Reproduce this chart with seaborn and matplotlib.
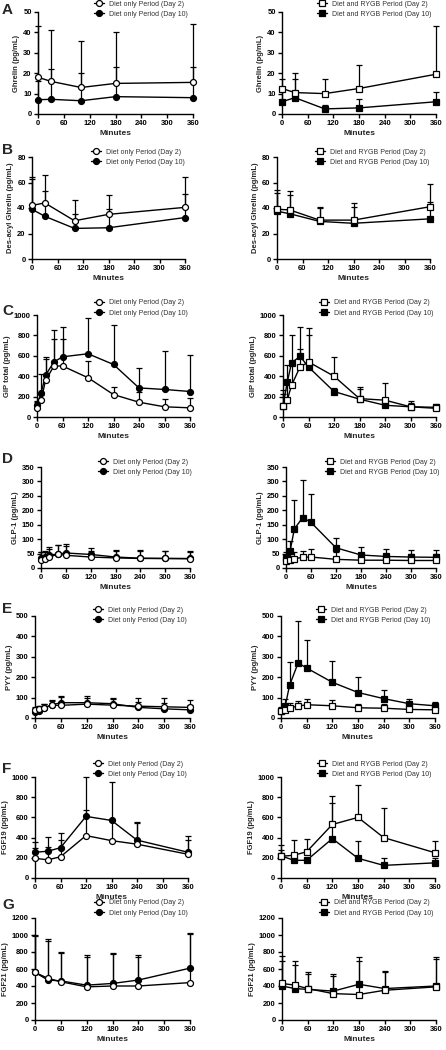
import numpy as np
import matplotlib
matplotlib.use("Agg")
import matplotlib.pyplot as plt
import seaborn as sns

# time points (minutes)
t_ghr = [0, 30, 100, 180, 360]
t_meal = [0, 10, 20, 40, 60, 120, 180, 240, 300, 360]
t_fgf = [0, 30, 60, 120, 180, 240, 360]

# A - Ghrelin (mean, upper error bar end)
ghr_diet_d2 = [18, 16, 13, 15, 15.5]
ghr_diet_d2_up = [43, 41, 36, 40, 44]
ghr_diet_d10 = [7, 7.2, 6.5, 8.5, 8]
ghr_diet_d10_up = [16, 22, 20, 23, 23]
ghr_rygb_d2 = [12.5, 10.5, 10, 12.5, 19.5]
ghr_rygb_d2_up = [17, 20, 17, 24, 43]
ghr_rygb_d10 = [6, 8, 2.5, 3, 6]
ghr_rygb_d10_up = [12, 17, 4.5, 7.5, 11]

# B - Des-acyl ghrelin
dag_diet_d2 = [42, 44, 30, 35, 40.5]
dag_diet_d2_up = [64, 66, 46, 50, 64]
dag_diet_d10 = [39, 33.5, 24, 24.5, 32.5]
dag_diet_d10_up = [63, 53, 35, 39, 51]
dag_rygb_d2 = [39, 38.5, 30.5, 30.5, 41]
dag_rygb_d2_up = [54, 53, 41, 44, 58.5]
dag_rygb_d10 = [37.5, 35.5, 29.5, 28, 31.5]
dag_rygb_d10_up = [52, 50, 40, 41, 45]

# C - GIP total
gip_diet_d2 = [85, 165, 360, 500, 500, 385, 220, 145, 100, 90]
gip_diet_d2_up = [150, 220, 570, 760, 760, 550, 290, 250, 180, 190]
gip_diet_d10 = [120, 240, 410, 540, 590, 620, 515, 285, 270, 250]
gip_diet_d10_up = [160, 420, 590, 850, 880, 970, 900, 480, 650, 605]
gip_rygb_d2 = [110, 165, 310, 490, 540, 400, 180, 165, 100, 85]
gip_rygb_d2_up = [260, 340, 520, 670, 870, 590, 290, 330, 160, 130]
gip_rygb_d10 = [110, 340, 530, 595, 490, 250, 175, 115, 100, 95]
gip_rygb_d10_up = [230, 510, 800, 880, 800, 280, 270, 180, 140, 120]

# D - GLP-1
glp_diet_d2 = [28, 30, 37, 48, 44, 38, 35, 33, 33, 32]
glp_diet_d2_up = [55, 55, 65, 80, 75, 60, 60, 60, 60, 55]
glp_diet_d10 = [35, 38, 45, 48, 52, 47, 38, 34, 33, 33]
glp_diet_d10_up = [55, 58, 72, 80, 82, 70, 62, 62, 60, 58]
glp_rygb_d2 = [25, 27, 32, 37, 38, 30, 27, 27, 26, 26]
glp_rygb_d2_up = [45, 50, 55, 60, 65, 55, 50, 50, 50, 48]
glp_rygb_d10 = [35, 60, 135, 175, 158, 70, 45, 40, 38, 37]
glp_rygb_d10_up = [55, 95, 235, 305, 255, 105, 72, 65, 63, 62]

# E - PYY
pyy_diet_d2 = [38, 42, 50, 62, 62, 68, 63, 58, 55, 52]
pyy_diet_d2_up = [55, 60, 70, 90, 105, 100, 95, 97, 98, 90]
pyy_diet_d10 = [30, 35, 50, 65, 75, 75, 70, 52, 45, 40]
pyy_diet_d10_up = [50, 60, 70, 85, 110, 110, 100, 80, 75, 65]
pyy_rygb_d2 = [35, 40, 50, 58, 65, 60, 50, 48, 42, 40]
pyy_rygb_d2_up = [55, 65, 75, 85, 95, 90, 70, 70, 65, 60]
pyy_rygb_d10 = [35, 60, 160, 270, 245, 175, 125, 95, 70, 60]
pyy_rygb_d10_up = [50, 95, 275, 475, 380, 280, 200, 135, 95, 80]

# F - FGF19
f19_diet_d2 = [195, 180, 210, 420, 370, 335, 235]
f19_diet_d2_up = [300, 310, 380, 670, 560, 540, 380]
f19_diet_d10 = [255, 265, 300, 610, 570, 375, 255]
f19_diet_d10_up = [360, 410, 450, 1000, 950, 550, 415]
f19_rygb_d2 = [215, 225, 260, 530, 600, 400, 250]
f19_rygb_d2_up = [330, 375, 390, 815, 920, 690, 370]
f19_rygb_d10 = [220, 175, 175, 390, 195, 125, 150]
f19_rygb_d10_up = [280, 250, 200, 745, 370, 200, 200]

# G - FGF21
f21_diet_d2 = [560, 490, 450, 390, 400, 400, 440]
f21_diet_d2_up = [1000, 950, 800, 760, 790, 760, 1020]
f21_diet_d10 = [560, 470, 460, 410, 430, 470, 610]
f21_diet_d10_up = [990, 930, 790, 740, 780, 740, 1010]
f21_rygb_d2 = [430, 410, 370, 310, 300, 350, 390]
f21_rygb_d2_up = [750, 690, 570, 540, 740, 580, 740]
f21_rygb_d10 = [400, 370, 360, 340, 420, 370, 400]
f21_rygb_d10_up = [700, 650, 540, 520, 700, 560, 720]

letters = ["A", "B", "C", "D", "E", "F", "G"]
ylabels = ["Ghrelin (pg/mL)", "Des-acyl Ghrelin (pg/mL)", "GIP total (pg/mL)",
           "GLP-1 (pg/mL)", "PYY (pg/mL)", "FGF19 (pg/mL)", "FGF21 (pg/mL)"]
ymax = [50, 80, 1000, 350, 500, 1000, 1200]
ystep = [10, 20, 200, 50, 100, 200, 200]
diet_labels = ["Diet only Period (Day 2)", "Diet only Period (Day 10)"]
rygb_labels = ["Diet and RYGB Period (Day 2)", "Diet and RYGB Period (Day 10)"]

panels = [
    (t_ghr, ghr_diet_d2, ghr_diet_d2_up, ghr_diet_d10, ghr_diet_d10_up,
     ghr_rygb_d2, ghr_rygb_d2_up, ghr_rygb_d10, ghr_rygb_d10_up),
    (t_ghr, dag_diet_d2, dag_diet_d2_up, dag_diet_d10, dag_diet_d10_up,
     dag_rygb_d2, dag_rygb_d2_up, dag_rygb_d10, dag_rygb_d10_up),
    (t_meal, gip_diet_d2, gip_diet_d2_up, gip_diet_d10, gip_diet_d10_up,
     gip_rygb_d2, gip_rygb_d2_up, gip_rygb_d10, gip_rygb_d10_up),
    (t_meal, glp_diet_d2, glp_diet_d2_up, glp_diet_d10, glp_diet_d10_up,
     glp_rygb_d2, glp_rygb_d2_up, glp_rygb_d10, glp_rygb_d10_up),
    (t_meal, pyy_diet_d2, pyy_diet_d2_up, pyy_diet_d10, pyy_diet_d10_up,
     pyy_rygb_d2, pyy_rygb_d2_up, pyy_rygb_d10, pyy_rygb_d10_up),
    (t_fgf, f19_diet_d2, f19_diet_d2_up, f19_diet_d10, f19_diet_d10_up,
     f19_rygb_d2, f19_rygb_d2_up, f19_rygb_d10, f19_rygb_d10_up),
    (t_fgf, f21_diet_d2, f21_diet_d2_up, f21_diet_d10, f21_diet_d10_up,
     f21_rygb_d2, f21_rygb_d2_up, f21_rygb_d10, f21_rygb_d10_up),
]

# axes boxes in pixels: (top, bottom, left-col x0, x1, right-col x0, x1)
boxes = [
    (12, 114, 38, 193, 282, 436),
    (157, 259, 32, 185, 277, 430),
    (315, 417, 37, 190, 283, 436),
    (467, 568, 41, 190, 286, 436),
    (616, 718, 35, 190, 281, 435),
    (777, 878, 35, 188, 281, 435),
    (918, 1020, 35, 190, 282, 436),
]
# legend first-row marker position (left x, right x, y)
leg_pos = [(100, 323, 5), (97, 321, 153), (100, 325, 304), (104, 331, 463),
           (99, 322, 611), (99, 323, 765), (100, 325, 904)]
letter_y = [10, 150, 311, 459, 609, 769, 905]

W, H = 446, 1050
sns.set_style("ticks")
plt.rcParams["font.family"] = ["Liberation Sans", "DejaVu Sans"]

fig = plt.figure(figsize=(W / 100, H / 100), dpi=100)


def draw(ax, t, m2, u2, m10, u10, marker, labels):
    for m, u in ((m10, u10), (m2, u2)):
        err = np.array(u) - np.array(m)
        eb = ax.errorbar(t, m, yerr=[np.zeros(len(t)), err], fmt="none",
                         ecolor="black", elinewidth=0.9, capsize=2.2,
                         capthick=0.9, zorder=2)
        for art in eb.lines[1] + eb.lines[2]:
            art.set_clip_on(False)
    sns.lineplot(x=t, y=m2, ax=ax, color="black", marker=marker, ms=4.3,
                 mfc="white", mec="black", mew=0.9, lw=1.0, label=labels[0],
                 zorder=4, clip_on=False)
    sns.lineplot(x=t, y=m10, ax=ax, color="black", marker=marker, ms=4.3,
                 mfc="black", mec="black", mew=0.9, lw=1.0, label=labels[1],
                 zorder=3, clip_on=False)


for i, p in enumerate(panels):
    top, bot, lx0, lx1, rx0, rx1 = boxes[i]
    t = p[0]
    for col, (x0, x1) in enumerate(((lx0, lx1), (rx0, rx1))):
        ax = fig.add_axes([x0 / W, 1 - bot / H, (x1 - x0) / W, (bot - top) / H])
        if col == 0:
            draw(ax, t, p[1], p[2], p[3], p[4], "o", diet_labels)
        else:
            draw(ax, t, p[5], p[6], p[7], p[8], "s", rygb_labels)
        ax.set_xlim(0, 360)
        ax.set_ylim(0, ymax[i])
        ax.set_xticks(range(0, 361, 60))
        ax.set_yticks(np.arange(0, ymax[i] + 1, ystep[i]))
        sns.despine(ax=ax)
        for s in ("left", "bottom"):
            ax.spines[s].set_linewidth(1.0)
            ax.spines[s].set_color("black")
        ax.tick_params(direction="out", length=3, width=1.0, labelsize=5.5,
                       pad=1.5, colors="black")
        for lab in ax.get_xticklabels() + ax.get_yticklabels():
            lab.set_fontweight("bold")
        ax.set_xlabel("Minutes", fontsize=6, fontweight="bold", labelpad=2)
        ax.set_ylabel(ylabels[i], fontsize=5.5, fontweight="bold", labelpad=2)
        lx = leg_pos[i][col]
        ly = leg_pos[i][2]
        leg = ax.legend(loc="upper left", frameon=False, fontsize=5.0,
                        handlelength=1.5, handletextpad=0.6, labelspacing=0.45,
                        borderpad=0, borderaxespad=0,
                        bbox_to_anchor=((lx - 6) / W, 1 - (ly - 4.5) / H),
                        bbox_transform=fig.transFigure)
        for txt in leg.get_texts():
            txt.set_color("#333333")
    fig.text(2 / W, 1 - letter_y[i] / H, letters[i], fontsize=11,
             fontweight="bold", va="center", ha="left")

fig.savefig("out.png", dpi=100)
